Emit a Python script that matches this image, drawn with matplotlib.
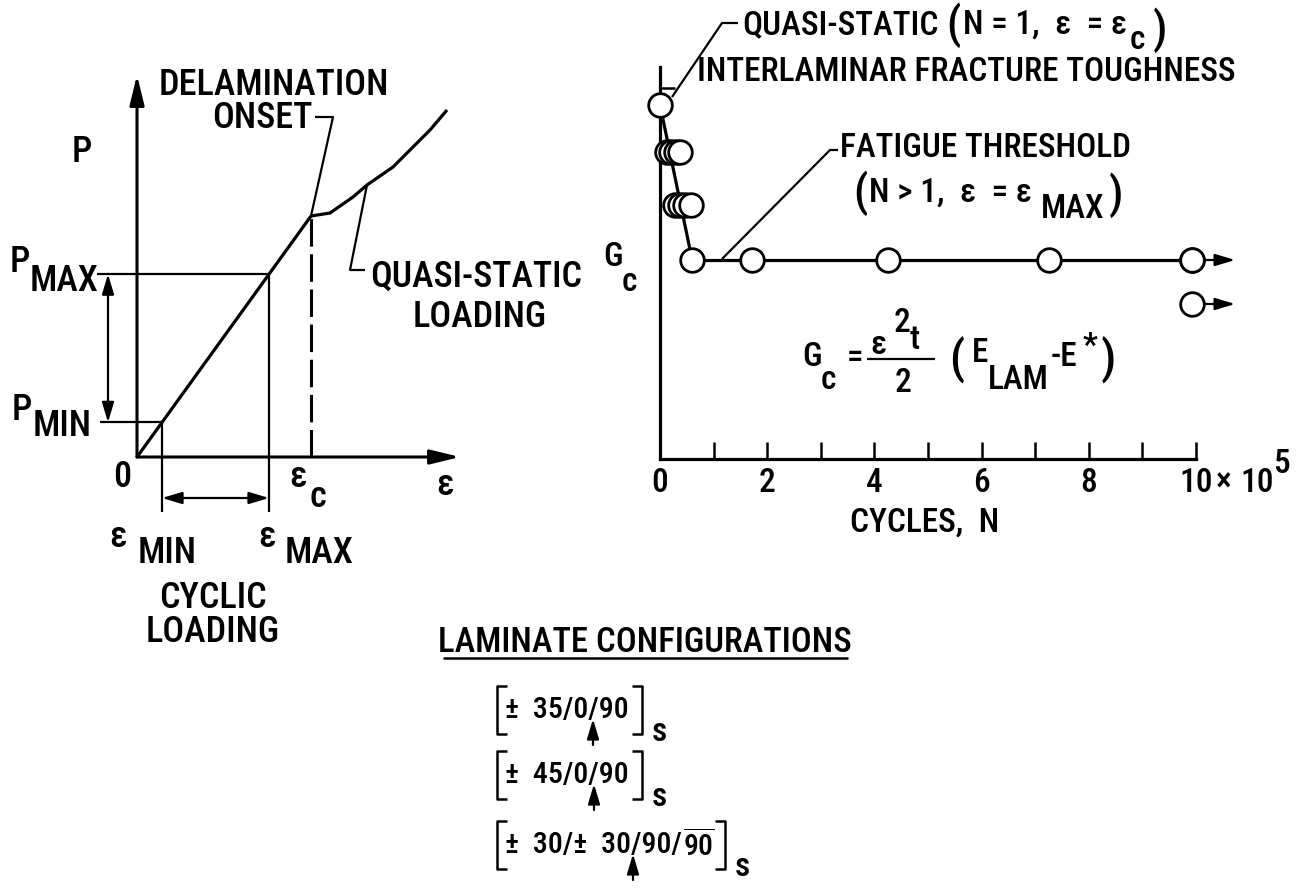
import matplotlib.pyplot as plt

plt.rcParams['font.family'] = ['Roboto Condensed', 'DejaVu Sans']
plt.rcParams['font.weight'] = 'medium'
plt.rcParams['mathtext.fontset'] = 'custom'
plt.rcParams['mathtext.rm'] = 'Roboto Condensed:medium'
plt.rcParams['lines.solid_capstyle'] = 'butt'

W, H = 1301, 892

# left sketch: load P against strain eps (arbitrary units)
eps_min, eps_max, eps_c = 0.25, 1.32, 1.74
stiffness = 1.385
quasi_eps = [1.74, 1.93, 2.16, 2.30, 2.56, 2.73, 2.93, 3.10]
quasi_P = [2.41, 2.44, 2.60, 2.72, 2.90, 3.07, 3.27, 3.47]

# right plot: G_c against cycles (x 10^5), G_c in arbitrary units
static_N, static_G = [0.0], [3.54]
fatigue_N = [0.13, 0.21, 0.30, 0.37, 0.28, 0.37, 0.47, 0.58]
fatigue_G = [3.07, 3.07, 3.07, 3.07, 2.54, 2.54, 2.54, 2.54]
threshold_N = [0.60, 1.72, 4.25, 7.26, 9.93]
threshold_G = [1.99, 1.99, 1.99, 1.99, 1.99]
runout_N = [9.93, 9.93]
runout_G = [1.99, 1.55]
cycle_ticks = list(range(11))
cycle_labels = ['0', '', '2', '', '4', '', '6', '', '8', '', '10']

laminates = ['±  35/0/90', '±  45/0/90', '±  30/±  30/90/']
laminate_tails = ['', '', r'$\overline{\mathrm{90}}$']

fig = plt.figure(figsize=(W / 100, H / 100), dpi=100)


def px_axes(x0, y0, x1, y1):
    ax = fig.add_axes([x0 / W, 1 - y1 / H, (x1 - x0) / W, (y1 - y0) / H])
    ax.set_facecolor('none')
    return ax


ov = px_axes(0, 0, W, H)
ov.set_xlim(0, W)
ov.set_ylim(H, 0)
ov.axis('off')


def txt(x, y, s, size=24, ha='center', va='center', **kw):
    return ov.text(x, y, s, fontsize=size, ha=ha, va=va, **kw)


def chain(x, y, parts, size=24):
    # parts after the first: (text, dx, dy, size) relative to the previous piece
    prev = txt(x, y, parts[0], size=size, ha='left')
    for s, dx, dy, sz in parts[1:]:
        prev = ov.annotate(s, xy=(1, 0.5), xycoords=prev, xytext=(dx, dy),
                           textcoords='offset pixels', ha='left', va='center',
                           fontsize=sz)
    return prev


big = dict(arrowstyle='-|>,head_length=0.9,head_width=0.22', lw=2.2,
           color='k', shrinkA=0, shrinkB=0, mutation_scale=20)
small = dict(arrowstyle='-|>,head_length=0.6,head_width=0.18', lw=1.6,
             color='k', shrinkA=0, shrinkB=0, mutation_scale=20)
both = dict(small, arrowstyle='<|-|>,head_length=0.6,head_width=0.18')

# ---------------- left sketch ----------------
axl = px_axes(0, 40, 480, 560)
axl.set_xlim(-1.37, 3.43)
axl.set_ylim(-1.03, 4.17)
axl.axis('off')

P_min, P_max, P_c = stiffness * eps_min, stiffness * eps_max, stiffness * eps_c

axl.annotate('', xy=(0, 3.82), xytext=(0, 0), arrowprops=big)
axl.annotate('', xy=(3.23, 0), xytext=(0, 0), arrowprops=big)
axl.plot([0, eps_c], [0, P_c], color='k', lw=2.3)
axl.plot(quasi_eps, quasi_P, color='k', lw=2.3)
axl.plot([eps_c, eps_c], [0, P_c], color='k', lw=2.2, dashes=(9, 2.5))
axl.plot([-0.40, eps_max], [P_max, P_max], color='k', lw=1.6)
axl.plot([-0.37, eps_min], [P_min, P_min], color='k', lw=1.6)
axl.plot([eps_min, eps_min], [P_min, -0.55], color='k', lw=1.6)
axl.plot([eps_max, eps_max], [P_max, -0.55], color='k', lw=1.6)
axl.annotate('', xy=(-0.29, P_max), xytext=(-0.29, P_min), arrowprops=both)
axl.annotate('', xy=(eps_max, -0.41), xytext=(eps_min, -0.41), arrowprops=both)
# leaders
axl.plot([eps_c, 1.96, 1.78], [P_c, 3.40, 3.40], color='k', lw=1.6)
axl.plot([2.30, 2.13, 2.28], [2.72, 1.87, 1.87], color='k', lw=1.6)

L = 26
txt(274, 85, 'DELAMINATION', L)
txt(313, 118, 'ONSET', L, ha='right')
txt(370, 277, 'QUASI-STATIC', L, ha='left')
txt(480, 317, 'LOADING', L)
txt(82, 152, 'P', L)
txt(20, 262, 'P', L)
txt(30, 281, 'MAX', L, ha='left')
txt(22, 410, 'P', L)
txt(33, 426, 'MIN', L, ha='left')
txt(122, 477, '0', L)
txt(298, 477, 'ε', L)
txt(318, 497, 'c', L)
txt(445, 485, 'ε', L)
txt(118, 537, 'ε', L)
txt(138, 553, 'MIN', L, ha='left')
txt(267, 537, 'ε', L)
txt(285, 553, 'MAX', L, ha='left')
txt(213, 598, 'CYCLIC', L)
txt(213, 632, 'LOADING', L)

# ---------------- right plot ----------------
axr = px_axes(560, 0, W, 520)
axr.set_xlim(-1.866, 11.959)
axr.set_ylim(-0.61, 4.59)
for side in ['top', 'right']:
    axr.spines[side].set_visible(False)
axr.spines['left'].set_position(('data', 0))
axr.spines['bottom'].set_position(('data', 0))
axr.spines['left'].set_bounds(0, 3.92)
axr.spines['bottom'].set_bounds(0, 10)
axr.spines['left'].set_linewidth(2.3)
axr.spines['bottom'].set_linewidth(2.3)
axr.set_xticks(cycle_ticks, cycle_labels, fontsize=24)
axr.set_yticks([3.71], [''])
axr.tick_params(axis='x', direction='in', length=12, width=1.8, pad=6)
axr.tick_params(axis='y', direction='in', length=11, width=1.8)

circle = dict(marker='o', ms=17, mfc='white', mec='k', mew=2.0, ls='none', zorder=4)
axr.plot(static_N + [threshold_N[0]], static_G + [threshold_G[0]], color='k', lw=2.3)
axr.plot(threshold_N, threshold_G, color='k', lw=2.3)
axr.plot(static_N, static_G, **circle)
axr.plot(fatigue_N, fatigue_G, **circle)
axr.plot(threshold_N, threshold_G, **circle)
axr.plot(runout_N, runout_G, **circle)
for n, g in zip(runout_N, runout_G):
    axr.annotate('', xy=(10.73, g), xytext=(n, g),
                 arrowprops=dict(small, shrinkA=8.5))

# leaders (right)
ov.plot([672, 722, 738], [97, 23, 23], color='k', lw=1.6)
ov.plot([722, 830, 838], [259, 150, 150], color='k', lw=1.6)

R = 24
chain(742, 25, ['QUASI-STATIC', ('(', 8, 0, 32), ('N = 1,  ε  = ε', 2, 0, R),
                ('c', 3, -15, R), (')', 8, 10, 32)], R)
txt(697, 72, 'INTERLAMINAR FRACTURE TOUGHNESS', R, ha='left')
txt(840, 148, 'FATIGUE THRESHOLD', R, ha='left')
chain(853, 193, ['(', ('N > 1,  ε  = ε', 2, 0, R), ('MAX', 9, -16, R),
                 (')', 4, 14, 32)], 32)

txt(613, 257, 'G', R)
txt(629, 282, 'c', R)
txt(925, 523, 'CYCLES,  N', R)
txt(1216, 483, '×', R, ha='left')
txt(1240, 483, '10', R, ha='left')
txt(1281, 464, '5', R)

# formula
txt(812, 357, 'G', R)
txt(828, 380, 'c', R)
txt(855, 358, '=', R)
ov.plot([867, 935], [359, 359], color='k', lw=1.6)
txt(878, 345, 'ε', R)
txt(902, 323, '2', R)
txt(915, 340, 't', R)
txt(903, 383, '2', R)
txt(957, 360, '(', 34)
txt(980, 353, 'E', R)
txt(1018, 380, 'LAM', R)
txt(1064, 357, '-E', R)
txt(1090, 347, '*', R)
txt(1108, 360, ')', 34)

# ---------------- laminate configurations ----------------
txt(645, 642, 'LAMINATE CONFIGURATIONS', 25)
ov.plot([443, 848], [658, 658], color='k', lw=1.8)

row_y = [710, 775, 845]
right_x = [642, 642, 725]
arrow_x = [593, 594, 633]
for lam, tail, y, xr, xa in zip(laminates, laminate_tails, row_y, right_x, arrow_x):
    ov.plot([507, 497, 497, 507], [y - 24, y - 24, y + 24, y + 24], color='k', lw=1.8)
    ov.plot([xr - 10, xr, xr, xr - 10], [y - 24, y - 24, y + 24, y + 24], color='k', lw=1.8)
    body = txt(505, y, lam, 21.5, ha='left')
    if tail:
        ov.annotate(tail, xy=(1, 0.5), xycoords=body, xytext=(1, -1),
                    textcoords='offset pixels', ha='left', va='center',
                    fontsize=21.5)
    txt(xr + 17, y + 22, 's', 24)
    ov.annotate('', xy=(xa, y + 9), xytext=(xa, y + 35), arrowprops=small)

fig.savefig('out.png', dpi=100)
